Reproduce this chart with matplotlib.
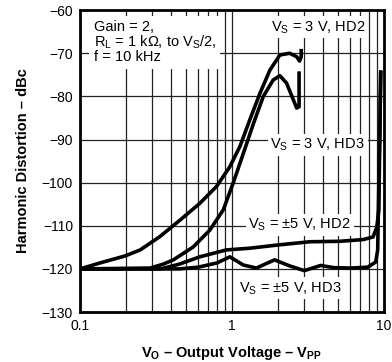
import matplotlib as mpl
mpl.use("Agg")
import matplotlib.pyplot as plt
from matplotlib.ticker import LogLocator, FixedLocator, NullFormatter

mpl.rcParams['font.family'] = ['Liberation Sans', 'DejaVu Sans']
mpl.rcParams['mathtext.fontset'] = 'custom'
mpl.rcParams['mathtext.rm'] = 'Liberation Sans'
mpl.rcParams['mathtext.bf'] = 'Liberation Sans:bold'

# V_S = 3 V, HD2
hd2_3v_x = [0.1, 0.136, 0.198, 0.249, 0.336, 0.455, 0.615, 0.792, 0.97, 1.13, 1.31, 1.53, 1.78, 2.07, 2.40, 2.67, 2.79, 2.86, 2.86]
hd2_3v_y = [-120, -118.6, -117, -115.6, -112.5, -108.7, -104.8, -100.9, -96.3, -91.6, -85.5, -79.3, -73.9, -70.4, -70.0, -70.8, -71.8, -70.8, -69.4]

# V_S = 3 V, HD3
hd3_3v_x = [0.1, 0.29, 0.353, 0.412, 0.557, 0.716, 0.878, 1.02, 1.19, 1.39, 1.61, 1.87, 2.07, 2.29, 2.54, 2.67, 2.77, 2.77]
hd3_3v_y = [-120, -119.8, -118.9, -117.9, -114.9, -111, -106.3, -100.1, -93.2, -86.2, -80.0, -76.2, -75.2, -76.9, -80.8, -82.7, -82.4, -74.6]

# V_S = +-5 V, HD2
hd2_5v_x = [0.1, 0.34, 0.45, 0.615, 0.92, 1.31, 2.07, 3.27, 5.1, 7.3, 8.5, 9.0, 9.27, 9.55]
hd2_5v_y = [-120, -120, -118.9, -117.2, -115.6, -115.2, -114.4, -113.7, -113.6, -113.2, -112.6, -110.3, -106.4, -74.4]

# V_S = +-5 V, HD3
hd3_5v_x = [0.1, 0.45, 0.6, 0.8, 0.97, 1.19, 1.45, 1.91, 2.40, 3.0, 3.84, 4.68, 6.05, 7.84, 8.85, 9.12, 9.55]
hd3_5v_y = [-120, -120, -119.6, -118.6, -117.2, -119.1, -119.8, -117.9, -119.3, -120.4, -119.2, -119.7, -119.8, -119.6, -118.4, -115.6, -74.4]

y_ticks = [-60, -70, -80, -90, -100, -110, -120, -130]
x_ticks = [0.1, 1, 10]
x_tick_labels = ['0.1', '1', '10']

fig = plt.figure(figsize=(3.92, 3.62), dpi=100)
ax = fig.add_axes([0.204, 0.138, 0.775, 0.834])

ax.set_xscale('log')
ax.set_xlim(0.1, 10)
ax.set_ylim(-130, -60)

ax.xaxis.set_major_locator(FixedLocator(x_ticks))
ax.set_xticklabels(x_tick_labels)
ax.xaxis.set_minor_locator(LogLocator(base=10, subs=range(2, 10)))
ax.xaxis.set_minor_formatter(NullFormatter())
ax.set_yticks(y_ticks)
ax.set_yticklabels([str(v).replace('-', '\u2212') for v in y_ticks])

ax.grid(True, which='both', axis='x', color='#222222', linewidth=0.9)
ax.grid(True, which='major', axis='y', color='#222222', linewidth=0.9)
ax.set_axisbelow(True)
ax.tick_params(which='both', length=0, labelsize=10, pad=5, colors='black')

for s in ax.spines.values():
    s.set_linewidth(2.0)
    s.set_zorder(5)

lw = 2.6
for xs, ys in [(hd2_3v_x, hd2_3v_y), (hd3_3v_x, hd3_3v_y),
               (hd2_5v_x, hd2_5v_y), (hd3_5v_x, hd3_5v_y)]:
    ax.plot(xs, ys, color='black', lw=lw, zorder=4, solid_joinstyle='round')

box = dict(facecolor='white', edgecolor='none', pad=2)
ax.text(0.045, 0.968, 'Gain = 2,\nR$_\\mathrm{L}$ = 1 k\u03a9, to V$_\\mathrm{S}$/2,\nf = 10 kHz',
        transform=ax.transAxes, ha='left', va='top', fontsize=10.5, linespacing=0.95,
        bbox=dict(facecolor='white', edgecolor='none', pad=3), zorder=3)
ax.text(0.785, 0.943, 'V$_\\mathrm{S}$ = 3 V, HD2', transform=ax.transAxes,
        ha='center', va='center', fontsize=10.5, bbox=box, zorder=3)
ax.text(0.782, 0.553, 'V$_\\mathrm{S}$ = 3 V, HD3', transform=ax.transAxes,
        ha='center', va='center', fontsize=10.5, bbox=box, zorder=3)
ax.text(0.723, 0.288, 'V$_\\mathrm{S}$ = \u00b15 V, HD2', transform=ax.transAxes,
        ha='center', va='center', fontsize=10.5, bbox=box, zorder=3)
ax.text(0.693, 0.079, 'V$_\\mathrm{S}$ = \u00b15 V, HD3', transform=ax.transAxes,
        ha='center', va='center', fontsize=10.5, bbox=box, zorder=3)

ax.set_ylabel('Harmonic Distortion \u2013 dBc', fontsize=10.5, fontweight='bold')
ax.set_xlabel('V$_\\mathbf{O}$ \u2013 Output Voltage \u2013 V$_\\mathbf{PP}$', fontsize=10.5,
              fontweight='bold', labelpad=8)
ax.yaxis.set_label_coords(-0.165, 0.5)

fig.savefig('out.png', dpi=100)
